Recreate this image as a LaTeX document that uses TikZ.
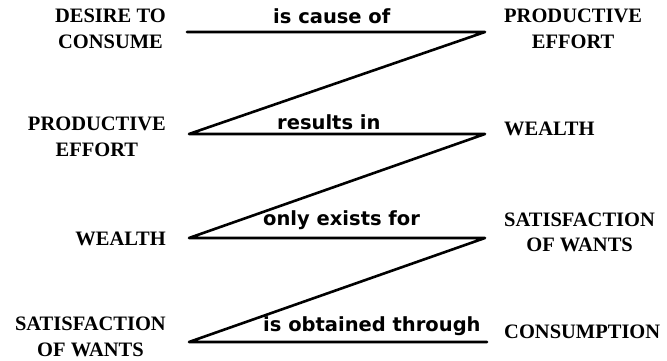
\documentclass[tikz,border=0pt]{standalone}
\usepackage{fontspec}
\newfontfamily\termfont{Liberation Serif}
\newfontfamily\linkfont{DejaVu Sans}

\newcommand*{\xleft}{189}
\newcommand*{\xright}{485}
\newcommand*{\xterml}{166}
\newcommand*{\xtermr}{504}

\begin{document}
\begin{tikzpicture}
[
	x=1pt,y=1pt,
	term/.style={font=\termfont\bfseries\fontsize{20.5}{25.5}\selectfont,align=center,inner sep=0pt},
	link/.style={font=\linkfont\bfseries\fontsize{19.5}{23}\selectfont,inner sep=0pt,anchor=base west},
	zigzag/.style={line width=2.6pt,line join=round,line cap=round}
]
	\useasboundingbox (0,0) rectangle (667,361);

	% ends of the lines
	\coordinate (l1) at (\xleft-2,329);
	\coordinate (r1) at (\xright,329);
	\coordinate (l2) at (\xleft,227);
	\coordinate (r2) at (\xright,227);
	\coordinate (l3) at (\xleft,123);
	\coordinate (r3) at (\xright,123);
	\coordinate (l4) at (\xleft,19);
	\coordinate (r4) at (\xright+2,19);

	\draw[zigzag] (l1) -- (r1) -- (l2) -- (r2) -- (l3) -- (r3) -- (l4) -- (r4);

	\node[link] (cause) at (273,337) {is cause of};
	\node[link] (results) at (277,231) {results in};
	\node[link] (exists) at (263,135) {only exists for};
	\node[link] (obtained) at (263,29) {is obtained through};

	% left column
	\node[term,anchor=east] (desire) at (\xterml,332) {DESIRE TO\\CONSUME};
	\node[term,anchor=east] (effortl) at (\xterml,224) {PRODUCTIVE\\EFFORT};
	\node[term,anchor=east] (wealthl) at (\xterml,122.5) {WEALTH};
	\node[term,anchor=east] (satisl) at (\xterml,24) {SATISFACTION\\OF WANTS};

	% right column
	\node[term,anchor=west] (effortr) at (\xtermr,332) {PRODUCTIVE\\EFFORT};
	\node[term,anchor=west] (wealthr) at (\xtermr,232.5) {WEALTH};
	\node[term,anchor=west] (satisr) at (\xtermr,128.5) {SATISFACTION\\OF WANTS};
	\node[term,anchor=west] (consumption) at (\xtermr,29.5) {CONSUMPTION};

\end{tikzpicture}
\end{document}
